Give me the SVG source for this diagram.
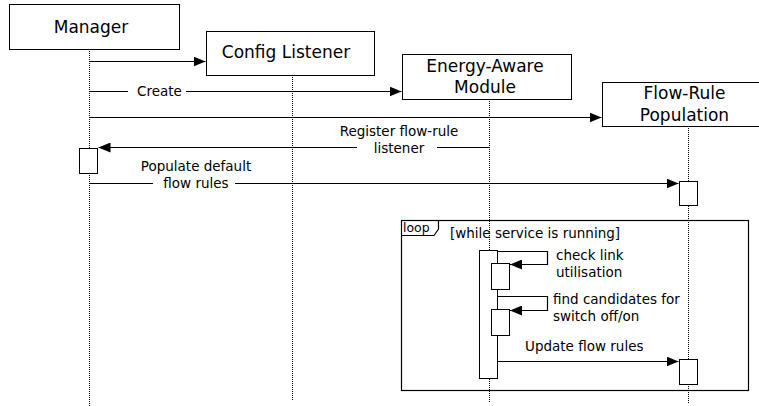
<svg xmlns="http://www.w3.org/2000/svg" width="759" height="406" viewBox="0 0 759 406">
<style>
.box{fill:#fff;stroke:#000;stroke-width:1}
.act{fill:#fff;stroke:#000;stroke-width:1}
.life{stroke:#000;stroke-width:1;stroke-dasharray:1 1;fill:none}
.msg{stroke:#000;stroke-width:1.2;fill:none}
.title{font-family:"DejaVu Sans",sans-serif;font-size:17px;text-anchor:middle;fill:#000}
.lbl{font-family:"DejaVu Sans",sans-serif;font-size:13.5px;fill:#000}
.mid{text-anchor:middle}
.bg{fill:#fff;stroke:none}
</style>
<defs>
<marker id="ah" markerWidth="12" markerHeight="10" refX="12" refY="5" orient="auto" markerUnits="userSpaceOnUse">
<path d="M0,0 L12,5 L0,10 Z" fill="#000"/>
</marker>
</defs>
<rect width="759" height="406" fill="#fff"/>
<g id="lifelines">
<line class="life" x1="89.5" y1="49" x2="89.5" y2="406"/>
<line class="life" x1="292.5" y1="75" x2="292.5" y2="400"/>
<line class="life" x1="489.5" y1="99" x2="489.5" y2="402"/>
<line class="life" x1="688.5" y1="126" x2="688.5" y2="404"/>
</g>
<g id="loop-frame">
<rect x="401.5" y="220.5" width="347" height="170" fill="none" stroke="#000" stroke-width="1.2"/>
<path d="M401.5,235.5 L434,235.5 L438.5,229 L438.5,220.5" fill="none" stroke="#000" stroke-width="1.2"/>
<text class="lbl" x="403" y="232" style="font-size:12.5px">loop</text>
<text class="lbl" x="450" y="238">[while service is running]</text>
</g>
<g id="manager">
<rect class="box" x="9.5" y="4.5" width="170" height="45"/>
<text class="title" x="91" y="32.5">Manager</text>
</g>
<g id="config-listener">
<rect class="box" x="206.5" y="31.5" width="168" height="44"/>
<text class="title" x="286" y="58">Config Listener</text>
</g>
<g id="energy-aware-module">
<rect class="box" x="402.5" y="54.5" width="169" height="45"/>
<text class="title" x="485" y="72">Energy-Aware</text>
<text class="title" x="485" y="93">Module</text>
</g>
<g id="flow-rule-population">
<rect class="box" x="602.5" y="82.5" width="157" height="44"/>
<text class="title" x="684.5" y="99">Flow-Rule</text>
<text class="title" x="684.5" y="121">Population</text>
</g>
<g id="activations">
<rect class="act" x="79.5" y="148.5" width="18" height="25"/>
<rect class="act" x="679.5" y="181.5" width="18" height="24"/>
<rect class="act" x="479.5" y="250.5" width="18" height="128"/>
<rect class="act" x="491.5" y="263.5" width="18" height="26"/>
<rect class="act" x="491.5" y="309.5" width="18" height="26"/>
<rect class="act" x="679.5" y="359.5" width="18" height="25"/>
</g>
<g id="connectors">
<line class="msg" x1="89.5" y1="61.5" x2="205.5" y2="61.5" marker-end="url(#ah)"/>
<line class="msg" x1="89.5" y1="91.5" x2="401.5" y2="91.5" marker-end="url(#ah)"/>
<rect class="bg" x="128" y="84" width="58" height="14"/>
<text class="lbl" x="137" y="96">Create</text>
<line class="msg" x1="89.5" y1="117.5" x2="601.5" y2="117.5" marker-end="url(#ah)"/>
<line class="msg" x1="489" y1="147.5" x2="98.5" y2="147.5" marker-end="url(#ah)"/>
<rect class="bg" x="357" y="140" width="80" height="14"/>
<text class="lbl mid" x="399" y="136">Register flow-rule</text>
<text class="lbl mid" x="399" y="153">listener</text>
<line class="msg" x1="89.5" y1="183.5" x2="678.5" y2="183.5" marker-end="url(#ah)"/>
<rect class="bg" x="153" y="176" width="82" height="14"/>
<text class="lbl mid" x="196" y="171">Populate default</text>
<text class="lbl mid" x="196" y="188">flow rules</text>
<path class="msg" d="M497.5,251.5 L547.5,251.5 L547.5,264.5 L510,264.5" marker-end="url(#ah)"/>
<text class="lbl" x="556" y="260">check link</text>
<text class="lbl" x="556" y="277">utilisation</text>
<path class="msg" d="M497.5,296.5 L547.5,296.5 L547.5,310.5 L510,310.5" marker-end="url(#ah)"/>
<text class="lbl" x="553" y="304">find candidates for</text>
<text class="lbl" x="553" y="321">switch off/on</text>
<line class="msg" x1="497.5" y1="361.5" x2="678.5" y2="361.5" marker-end="url(#ah)"/>
<text class="lbl" x="525" y="351">Update flow rules</text>
</g>
</svg>
